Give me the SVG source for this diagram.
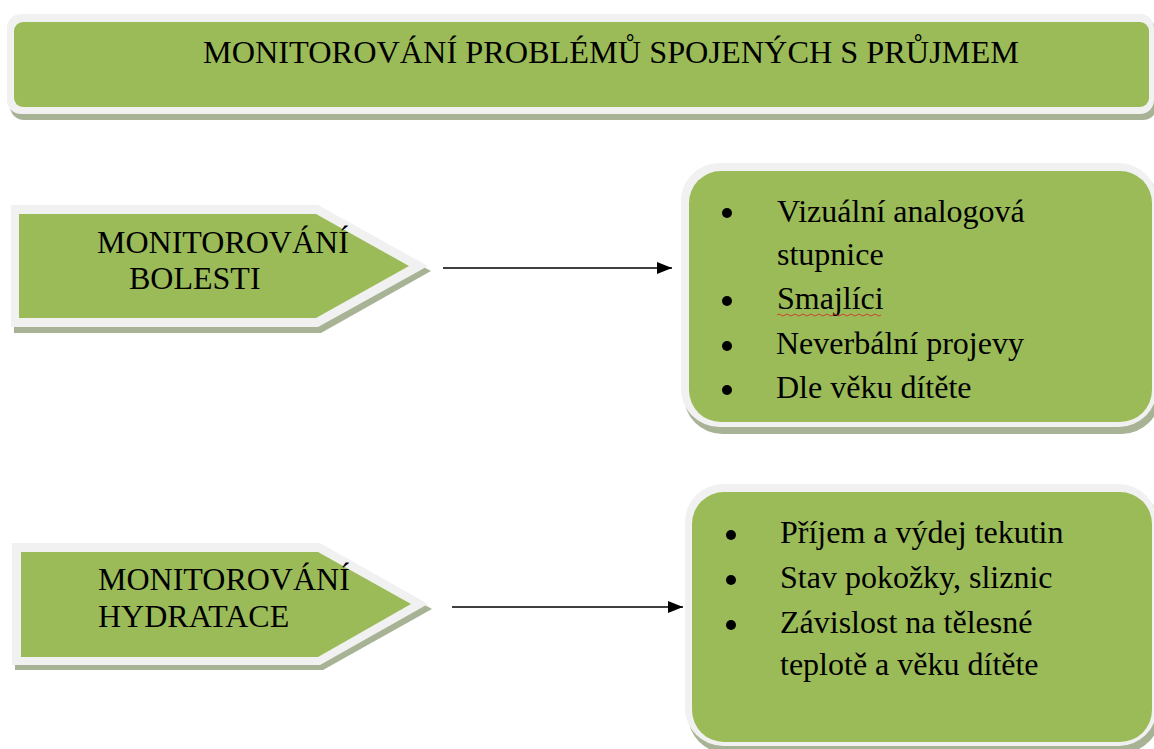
<svg xmlns="http://www.w3.org/2000/svg" width="1154" height="749" viewBox="0 0 1154 749">
  <style>
    .shadow { fill: #a7b394; }
    .rim { fill: #f1f1f1; }
    .body { fill: #9bbb59; }
    .t { font-family: 'Liberation Serif', 'Times New Roman', serif; font-size: 32.3px; fill: #000; }
    .li { font-family: 'Liberation Serif', 'Times New Roman', serif; font-size: 32px; fill: #000; }
    .dot { fill: #000; }
    .conn { stroke: #000; stroke-width: 1.5; fill: none; }
  </style>
  <defs>
    <marker id="head" markerUnits="userSpaceOnUse" markerWidth="16" markerHeight="12" refX="15" refY="6" orient="auto">
      <path d="M0,0 L15,6 L0,12 Z" fill="#000"/>
    </marker>
  </defs>
  <rect width="1154" height="749" fill="#fff"/>

  <!-- title banner -->
  <g id="title">
    <rect class="shadow" x="10" y="19" width="1147" height="101" rx="14"/>
    <rect class="rim" x="7" y="14" width="1147" height="100" rx="14"/>
    <rect class="body" x="14" y="22" width="1135" height="85" rx="9"/>
    <text class="t" x="203" y="63">MONITOROVÁNÍ PROBLÉMŮ SPOJENÝCH S PRŮJMEM</text>
  </g>

  <!-- pain monitoring -->
  <g id="pain">
    <polygon class="shadow" points="14,210 321,210 431,271 321,333 14,333"/>
    <polygon class="rim" points="11,205 318,205 428,266 318,327 11,327"/>
    <polygon class="body" points="19,214 316,214 409,266 316,318 19,318"/>
    <text class="li" x="97" y="253">MONITOROVÁNÍ</text>
    <text class="li" x="129" y="289">BOLESTI</text>
  </g>

  <!-- hydration monitoring -->
  <g id="hydration">
    <polygon class="shadow" points="15,548 323,548 432,609 323,670 15,670"/>
    <polygon class="rim" points="12,543 320,543 428,604 320,665 12,665"/>
    <polygon class="body" points="21,552 318,552 411,604 318,657 21,657"/>
    <text class="li" x="98" y="590">MONITOROVÁNÍ</text>
    <text class="li" x="98" y="627">HYDRATACE</text>
  </g>

  <!-- pain assessment methods -->
  <g id="pain-methods">
    <rect class="shadow" x="684" y="168" width="476" height="266" rx="38"/>
    <rect class="rim" x="681" y="163" width="476" height="264" rx="38"/>
    <rect class="body" x="689" y="171" width="463" height="251" rx="32"/>
    <circle class="dot" cx="727" cy="213" r="5"/>
    <circle class="dot" cx="727" cy="301" r="5"/>
    <circle class="dot" cx="727" cy="346" r="5"/>
    <circle class="dot" cx="727" cy="390" r="5"/>
    <text class="li" x="777" y="222">Vizuální analogová</text>
    <text class="li" x="777" y="265">stupnice</text>
    <text class="li" x="777" y="309">Smajlíci</text>
    <path d="M777,315 q2,-2 4,0 t4,0 t4,0 t4,0 t4,0 t4,0 t4,0 t4,0 t4,0 t4,0 t4,0 t4,0 t4,0 t4,0 t4,0 t4,0 t4,0 t4,0 t4,0 t4,0 t4,0 t4,0 t4,0 t4,0 t4,0 t4,0" fill="none" stroke="#e02020" stroke-width="0.8"/>
    <text class="li" x="776" y="354">Neverbální projevy</text>
    <text class="li" x="776" y="398">Dle věku dítěte</text>
  </g>

  <!-- hydration indicators -->
  <g id="hydration-signs">
    <rect class="shadow" x="688" y="489" width="472" height="264" rx="38"/>
    <rect class="rim" x="685" y="484" width="472" height="262" rx="38"/>
    <rect class="body" x="692" y="492" width="460" height="250" rx="32"/>
    <circle class="dot" cx="731" cy="535" r="5"/>
    <circle class="dot" cx="731" cy="580" r="5"/>
    <circle class="dot" cx="731" cy="625" r="5"/>
    <text class="li" x="780" y="543">Příjem a výdej tekutin</text>
    <text class="li" x="780" y="588">Stav pokožky, sliznic</text>
    <text class="li" x="780" y="633">Závislost na tělesné</text>
    <text class="li" x="780" y="675">teplotě a věku dítěte</text>
  </g>

  <!-- connectors -->
  <g id="connectors">
    <line class="conn" x1="443" y1="268" x2="672" y2="268" marker-end="url(#head)"/>
    <line class="conn" x1="452" y1="607" x2="683" y2="607" marker-end="url(#head)"/>
  </g>
</svg>
